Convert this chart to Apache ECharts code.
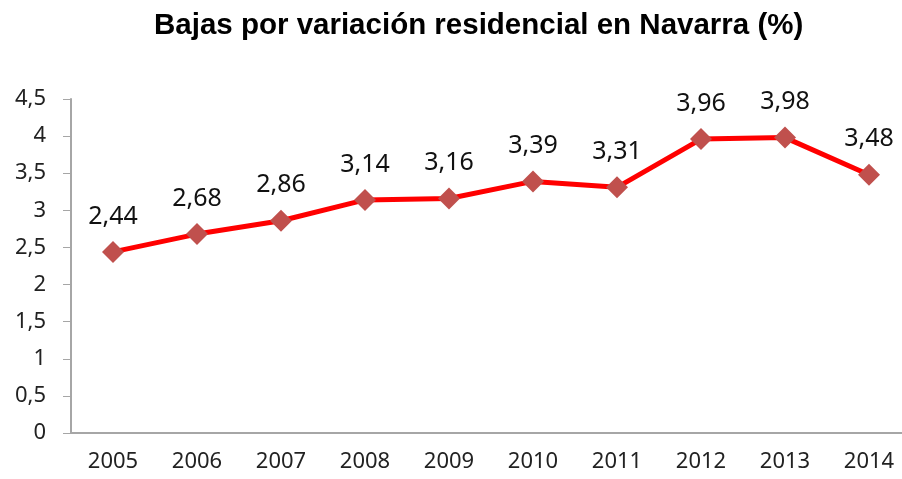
<!DOCTYPE html>
<html>
<head>
<meta charset="utf-8">
<script src="https://cdn.jsdelivr.net/npm/echarts@6/dist/echarts.min.js"></script>
<style>
  html, body { margin: 0; padding: 0; background: #fff; }
  #main { width: 902px; height: 479px; }
</style>
</head>
<body>
<div id="main"></div>
<script>
// datos del gráfico
var years = ['2005', '2006', '2007', '2008', '2009', '2010', '2011', '2012', '2013', '2014'];
var bajas = [2.44, 2.68, 2.86, 3.14, 3.16, 3.39, 3.31, 3.96, 3.98, 3.48];
var yMin = 0;
var yMax = 4.5;
var yStep = 0.5;

function coma(v) {
  return String(v).replace('.', ',');
}

var myChart = echarts.init(document.getElementById('main'));
var option = {
  backgroundColor: '#ffffff',
  animation: false,
  title: {
    text: 'Bajas por variación residencial en Navarra (%)',
    left: 149,
    top: 6,
    textStyle: {
      fontFamily: 'Liberation Sans',
      fontWeight: 'bold',
      fontSize: 29.5,
      color: '#000'
    }
  },
  grid: {
    left: 71,
    top: 99,
    width: 840,
    height: 334,
    outerBoundsMode: 'none'
  },
  xAxis: {
    type: 'category',
    data: years,
    boundaryGap: true,
    axisLine: { lineStyle: { color: '#a6a6a6', width: 2 } },
    axisTick: { show: false },
    axisLabel: {
      color: '#222',
      fontFamily: 'Noto Sans',
      fontSize: 22,
      margin: 18
    }
  },
  yAxis: {
    type: 'value',
    min: yMin,
    max: yMax,
    interval: yStep,
    splitLine: { show: false },
    axisLine: { show: true, lineStyle: { color: '#a6a6a6', width: 2 } },
    axisTick: { show: true, length: 8, lineStyle: { color: '#a6a6a6', width: 1 } },
    axisLabel: {
      color: '#222',
      fontFamily: 'Noto Sans',
      fontSize: 22,
      margin: 25,
      formatter: function (v) { return coma(v); }
    }
  },
  series: [{
    type: 'line',
    data: bajas,
    symbol: 'diamond',
    symbolSize: 22,
    lineStyle: { color: '#ff0000', width: 5 },
    itemStyle: { color: '#c0504d' },
    label: {
      show: true,
      position: 'top',
      distance: 12,
      color: '#111',
      fontFamily: 'Noto Sans',
      fontSize: 25,
      formatter: function (p) { return coma(p.value); }
    }
  }]
};
myChart.setOption(option);
</script>
</body>
</html>
